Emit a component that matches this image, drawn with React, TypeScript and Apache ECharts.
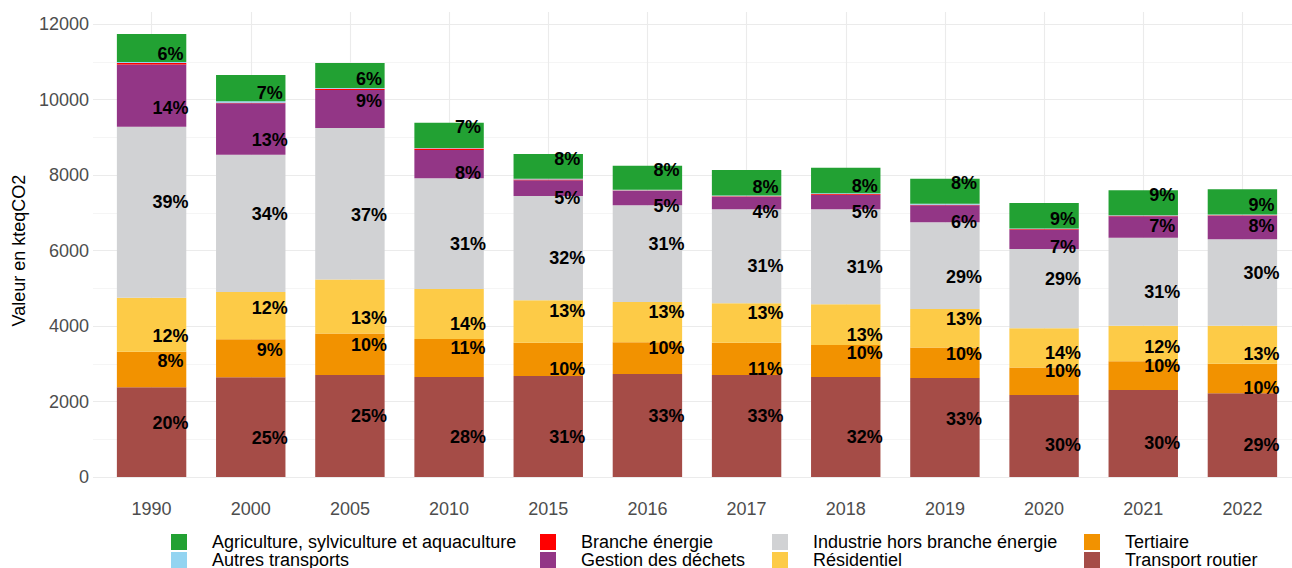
import React, { useEffect, useRef } from "react";
import * as echarts from "echarts";

const years = ["1990", "2000", "2005", "2010", "2015", "2016", "2017", "2018", "2019", "2020", "2021", "2022"];

const transportRoutier = [2376, 2640, 2700, 2650, 2675, 2728, 2700, 2650, 2620, 2170, 2305, 2216];
const tertiaire = [944, 1008, 1100, 1006, 883, 840, 858, 847, 810, 730, 759, 786];
const residentiel = [1430, 1252, 1430, 1324, 1125, 1068, 1043, 1077, 1020, 1040, 944, 1006];
const industrie = [4530, 3638, 4015, 2932, 2760, 2560, 2490, 2517, 2300, 2100, 2332, 2288];
const gestionDechets = [1650, 1360, 1007, 750, 420, 380, 334, 387, 450, 515, 566, 626];
const brancheEnergie = [40, 15, 35, 40, 15, 15, 15, 20, 10, 15, 15, 15];
const autresTransports = [25, 40, 15, 15, 20, 15, 15, 20, 30, 15, 15, 15];
const agriculture = [740, 697, 665, 669, 658, 641, 677, 676, 662, 673, 658, 668];

const yTicks = { min: 0, max: 12000, interval: 2000 };

// label vertical jitter (pixels), as in the reference
const jitterAgri = [6, 5, 3, -8, -7, -8, 4, 6, -8, 3, -8, 3];
const jitterDech = [12, 11, -8, 9, 10, 8, 9, 10, 8, 8, -1, -2];
const jitterInd = [-10, -9, 11, 10, 10, -10, 10, 10, 11, -10, 10, -10];
const jitterRes = [11, -8, 11, 10, -10, -10, -10, 10, -9, 5, 3, 9];
const jitterTert = [-8, -8, -9, -10, 10, -10, 10, -8, -9, -10, -10, 9];
const jitterTrans = [-9, 11, -10, 10, 10, -10, -10, 10, -9, 9, 10, 10];
const zeros = years.map(() => 0);

const FONT = "'Liberation Sans', Arial, Helvetica, sans-serif";

export default function App() {
  const ref = useRef<HTMLDivElement>(null);

  useEffect(() => {
    if (!ref.current) return;
    const chart = echarts.init(ref.current, null, { renderer: "svg" });

    const seriesDefs = [
      { name: "Transport routier", data: transportRoutier, color: "#a54c47", jitter: jitterTrans },
      { name: "Tertiaire", data: tertiaire, color: "#f29200", jitter: jitterTert },
      { name: "Résidentiel", data: residentiel, color: "#fdcb47", jitter: jitterRes },
      { name: "Industrie hors branche énergie", data: industrie, color: "#d1d2d4", jitter: jitterInd },
      { name: "Gestion des déchets", data: gestionDechets, color: "#933686", jitter: jitterDech },
      { name: "Branche énergie", data: brancheEnergie, color: "#ff0000", jitter: zeros },
      { name: "Autres transports", data: autresTransports, color: "#93d4f1", jitter: zeros },
      { name: "Agriculture, sylviculture et aquaculture", data: agriculture, color: "#22a133", jitter: jitterAgri },
    ];

    const totals = years.map((_, i) => seriesDefs.reduce((s, d) => s + d.data[i], 0));

    const series: any[] = seriesDefs.map((d) => ({
      name: d.name,
      type: "bar",
      stack: "total",
      xAxisIndex: 1,
      yAxisIndex: 1,
      barWidth: "70%",
      itemStyle: { color: d.color },
      label: {
        show: true,
        position: "inside",
        color: "#000",
        fontSize: 18,
        fontWeight: "bold",
        fontFamily: FONT,
        textBorderWidth: 0,
        formatter: (p: any) => {
          const pct = Math.round((p.value / totals[p.dataIndex]) * 100);
          return pct >= 1 ? pct + "%" : "";
        },
      },
      emphasis: { disabled: true },
      data: d.data.map((v, i) => ({ value: v, label: { offset: [19, d.jitter[i]] } })),
    }));

    const legendCols = [
      ["Agriculture, sylviculture et aquaculture", "Autres transports"],
      ["Branche énergie", "Gestion des déchets"],
      ["Industrie hors branche énergie", "Résidentiel"],
      ["Tertiaire", "Transport routier"],
    ];
    const legendLeft = [171, 540, 772, 1084];

    const legend = legendCols.map((names, k) => ({
      orient: "vertical",
      left: legendLeft[k],
      top: 533,
      width: 360,
      height: 60,
      padding: 0,
      itemWidth: 16,
      itemHeight: 16,
      itemGap: 0,
      icon: "rect",
      selectedMode: false,
      data: names,
      textStyle: { fontSize: 18, color: "#000", fontFamily: FONT, lineHeight: 16, padding: [0, 0, 0, 20] },
    }));

    chart.setOption({
      animation: false,
      textStyle: { fontFamily: FONT },
      legend,
      grid: [
        { left: 93, top: 24, width: 1212, height: 453 },
        { left: 102, top: 24, width: 1194, height: 453 },
      ],
      xAxis: [
        { type: "value", gridIndex: 0, show: false, min: 0, max: 1 },
        {
          type: "category",
          gridIndex: 1,
          data: years,
          axisLine: { show: false },
          axisTick: {
            show: true,
            inside: true,
            alignWithLabel: true,
            length: 465,
            lineStyle: { color: "#ebebeb", width: 1.1 },
          },
          axisLabel: { fontSize: 18, color: "#4d4d4d", margin: 23, fontFamily: FONT },
        },
      ],
      yAxis: [
        {
          type: "value",
          gridIndex: 0,
          ...yTicks,
          name: "Valeur en kteqCO2",
          nameLocation: "middle",
          nameGap: 60,
          nameTextStyle: { fontSize: 18, color: "#000", fontFamily: FONT },
          axisLine: { show: false },
          axisTick: { show: false },
          axisLabel: {
            fontSize: 18,
            color: "#4d4d4d",
            margin: 4,
            fontFamily: FONT,
            formatter: (v: number) => String(v),
          },
          splitLine: { show: true, lineStyle: { color: "#ebebeb", width: 1.1 } },
          minorTick: { show: false, splitNumber: 2 },
          minorSplitLine: { show: true, lineStyle: { color: "#f3f3f3", width: 0.8 } },
        },
        {
          type: "value",
          gridIndex: 1,
          ...yTicks,
          show: false,
          splitLine: { show: false },
        },
      ],
      series,
    });

    return () => chart.dispose();
  }, []);

  return (
    <div
      ref={ref}
      style={{ position: "fixed", left: 0, top: 0, width: 1292, height: 568, background: "#fff" }}
    />
  );
}
